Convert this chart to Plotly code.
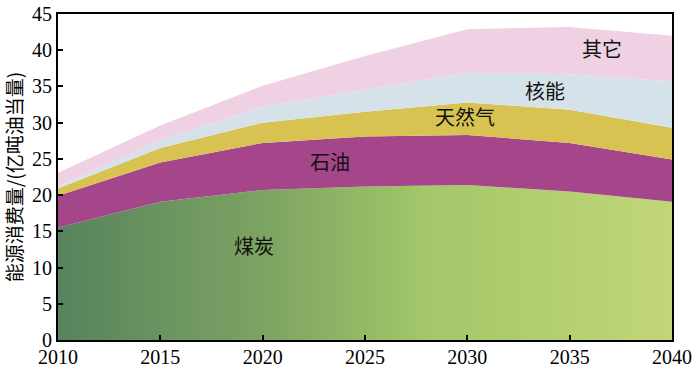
import numpy as np
import plotly.graph_objects as go

years = [2010, 2015, 2020, 2025, 2030, 2035, 2040]
coal = [15.5, 19.1, 20.7, 21.2, 21.4, 20.5, 19.1]
oil = [4.4, 5.4, 6.5, 6.9, 6.9, 6.7, 5.8]
gas = [1.0, 2.0, 2.8, 3.4, 4.5, 4.6, 4.4]
nuclear = [0.3, 1.1, 2.2, 3.1, 4.1, 4.9, 6.4]
others = [1.9, 2.0, 2.9, 4.6, 6.0, 6.5, 6.3]

labels = ["煤炭", "石油", "天然气", "核能", "其它"]
label_x = [2019.6, 2023.3, 2029.9, 2033.8, 2036.6]
label_y = [13.1, 24.6, 30.8, 34.5, 40.2]

y_ticks = [0, 5, 10, 15, 20, 25, 30, 35, 40, 45]
x_ticks = [2010, 2015, 2020, 2025, 2030, 2035, 2040]
y_title = "能源消费量/(亿吨油当量)"

colors = ["#a5468a", "#d8c352", "#d6e2ea", "#f0d1e3"]

series = [coal, oil, gas, nuclear, others]
cum = np.cumsum(np.array(series), axis=0)

fig = go.Figure()
fig.add_trace(go.Scatter(
    x=years, y=cum[0], mode="lines", line=dict(width=0),
    fill="tozeroy",
    fillgradient=dict(type="horizontal",
                      colorscale=[[0, "#57835e"], [0.35, "#7fa563"],
                                  [0.6, "#a3c769"], [1, "#c2d679"]]),
    hoverinfo="skip", showlegend=False))
for i in range(1, 5):
    fig.add_trace(go.Scatter(
        x=years, y=cum[i], mode="lines", line=dict(width=0),
        fill="tonexty", fillcolor=colors[i - 1],
        hoverinfo="skip", showlegend=False))

for t, xv, yv in zip(labels, label_x, label_y):
    fig.add_annotation(x=xv, y=yv, text=t, showarrow=False,
                       font=dict(family="Noto Sans CJK SC", size=20, color="#111"))

axis_common = dict(showline=True, linecolor="black", linewidth=2, mirror=True,
                   ticks="inside", ticklen=5, tickwidth=1.5, tickcolor="black",
                   showgrid=False, zeroline=False, automargin=False,
                   tickfont=dict(family="Liberation Serif", size=20, color="black"))

fig.update_xaxes(range=[2010, 2040], tickvals=x_ticks, ticklabelstandoff=-2,
                 **axis_common)
fig.update_yaxes(range=[0, 45], tickvals=y_ticks,
                 title=dict(text=y_title, standoff=5,
                            font=dict(family="Noto Sans CJK SC", size=19, color="black")),
                 **axis_common)

fig.update_layout(width=700, height=370,
                  margin=dict(l=58, r=28, t=14, b=30),
                  plot_bgcolor="white", paper_bgcolor="white")

fig.write_html("out.html", config={"displayModeBar": False},
               post_script="document.body.style.margin='0';")
